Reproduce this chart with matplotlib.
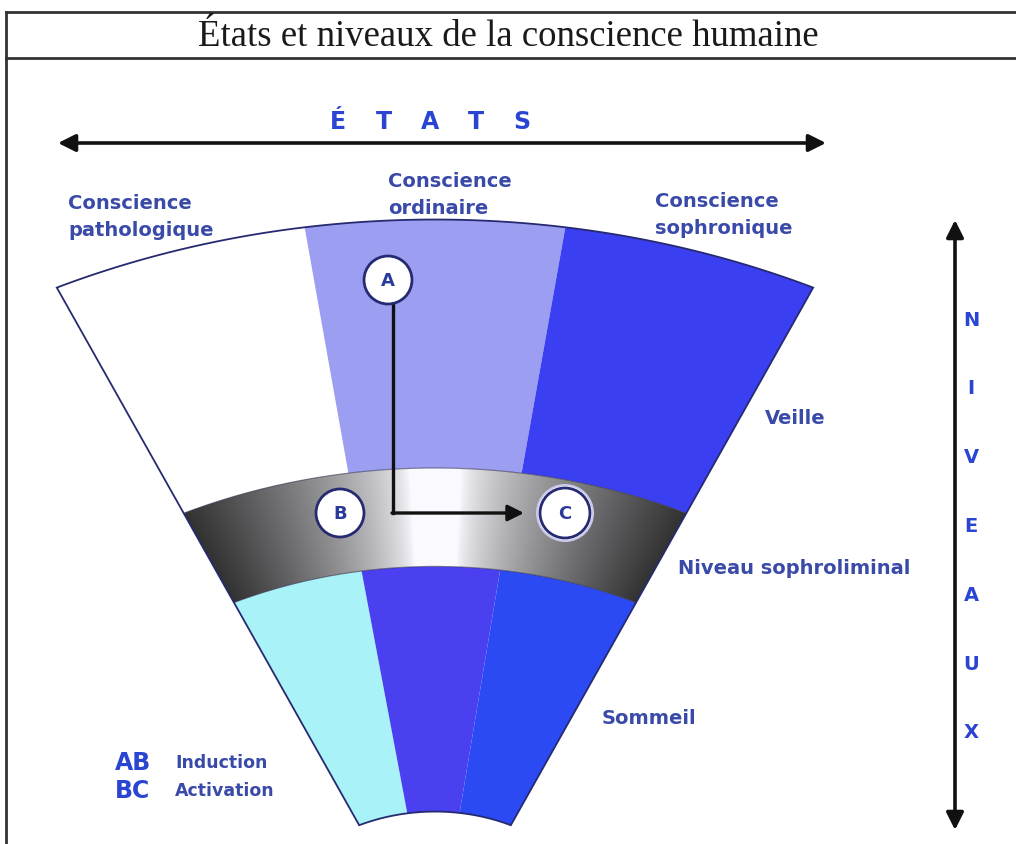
import matplotlib
matplotlib.use("Agg")
import matplotlib.pyplot as plt
import numpy as np
from matplotlib.patches import Polygon, Circle

# --- diagram content ---
TITLE = "États et niveaux de la conscience humaine"
STATE_LABELS = ["Conscience\npathologique", "Conscience\nordinaire", "Conscience\nsophronique"]
STATE_LABEL_POS = [(68, 217), (388, 195), (655, 215)]
LEVEL_LABELS = ["Veille", "Niveau sophroliminal", "Sommeil"]
LEVEL_LABEL_POS = [(765, 419), (678, 569), (602, 719)]
ETATS_LETTERS = list("ÉTATS")
NIVEAUX_LETTERS = list("NIVEAUX")
LEGEND_CODES = ["AB", "BC"]
LEGEND_TEXTS = ["Induction", "Activation"]

# fan geometry (elliptic fan: apex, squash factor, radii, angles in degrees)
APEX = (435, 960)
SQUASH = 0.82
HALF_ANGLE = 24.76
R_TOP = (600, 903)       # "Veille" ring
R_BAND = (480, 600)      # "Niveau sophroliminal" ring
R_BOTTOM = (181, 480)    # "Sommeil" ring
TOP_SPLITS = [-HALF_ANGLE, -8.3, 8.3, HALF_ANGLE]
BOTTOM_SPLITS = [-HALF_ANGLE, -8.8, 7.8, HALF_ANGLE]
TOP_COLORS = ["#ffffff", "#9c9ef2", "#3b3ff2"]
BOTTOM_COLORS = ["#a9f2f7", "#4a40f0", "#2c4af4"]

LABEL_COLOR = "#3a4aa8"
BRIGHT_BLUE = "#2a45d2"
NAVY = "#262a70"


def fan_xy(r, theta_deg):
    t = np.radians(theta_deg)
    return APEX[0] + r * np.sin(t), APEX[1] - SQUASH * r * np.cos(t)


def sector(r0, r1, a0, a1, n=120):
    th = np.linspace(a0, a1, n)
    xo, yo = fan_xy(r1, th)
    xi, yi = fan_xy(r0, th[::-1])
    return np.column_stack([np.concatenate([xo, xi]), np.concatenate([yo, yi])])


fig = plt.figure(figsize=(10.16, 8.44), dpi=100)
ax = fig.add_axes([0, 0, 1, 1])
ax.set_xlim(0, 1016)
ax.set_ylim(844, 0)
ax.axis("off")

# title frame
ax.plot([6, 1016], [12, 12], color="#333333", lw=2)
ax.plot([6, 1016], [58, 58], color="#333333", lw=2)
ax.plot([6, 6], [12, 844], color="#333333", lw=2)
ax.text(508, 37, TITLE, ha="center", va="center", fontsize=26.5,
        family="Liberation Serif", color="#1a1a1a")

# top ring sectors
for i, c in enumerate(TOP_COLORS):
    ax.add_patch(Polygon(sector(R_TOP[0], R_TOP[1], TOP_SPLITS[i], TOP_SPLITS[i + 1]),
                         closed=True, facecolor=c, edgecolor="none"))
# bottom ring sectors
for i, c in enumerate(BOTTOM_COLORS):
    ax.add_patch(Polygon(sector(R_BOTTOM[0], R_BOTTOM[1], BOTTOM_SPLITS[i], BOTTOM_SPLITS[i + 1]),
                         closed=True, facecolor=c, edgecolor="none"))

# gradient band (dark at the ends, white in the middle)
band = Polygon(sector(R_BAND[0], R_BAND[1], -HALF_ANGLE, HALF_ANGLE),
               closed=True, facecolor="none", edgecolor="none")
ax.add_patch(band)
gx, gy = np.meshgrid(np.arange(150, 720), np.arange(440, 640))
theta = np.degrees(np.arctan2(gx - APEX[0], (APEX[1] - gy) / SQUASH))
u = np.clip((np.abs(theta) / HALF_ANGLE - 0.1) / 0.9, 0, 1)
g = 1 - 0.8 * u ** 0.7
img = np.dstack([g * 0.98, g * 0.98, g])
im = ax.imshow(img, extent=(150, 720, 640, 440), origin="upper", zorder=2)
im.set_clip_path(band)

# fan outline
outline = sector(R_BOTTOM[0], R_TOP[1], -HALF_ANGLE, HALF_ANGLE)
ax.add_patch(Polygon(outline, closed=True, facecolor="none", edgecolor=NAVY, lw=1.3, zorder=3))
for r in (R_BAND[0], R_BAND[1]):
    th = np.linspace(-HALF_ANGLE, HALF_ANGLE, 150)
    x, y = fan_xy(r, th)
    ax.plot(x, y, color="#303050", lw=0.8, alpha=0.6, zorder=3)

# ÉTATS axis
ax.annotate("", xy=(58, 143), xytext=(826, 143),
            arrowprops=dict(arrowstyle="<|-|>", color="#111111", lw=2.6,
                            mutation_scale=26, shrinkA=0, shrinkB=0))
for i, ch in enumerate(ETATS_LETTERS):
    ax.text(338 + i * 46, 122, ch, ha="center", va="center", fontsize=17,
            fontweight="bold", family="DejaVu Sans", color=BRIGHT_BLUE)

# NIVEAUX axis
ax.annotate("", xy=(955, 220), xytext=(955, 830),
            arrowprops=dict(arrowstyle="<|-|>", color="#111111", lw=2.6,
                            mutation_scale=26, shrinkA=0, shrinkB=0))
for i, ch in enumerate(NIVEAUX_LETTERS):
    ax.text(971, 320 + i * 68.8, ch, ha="center", va="center", fontsize=14,
            fontweight="bold", family="DejaVu Sans", color=BRIGHT_BLUE)

# labels
for txt, (x, y) in zip(STATE_LABELS, STATE_LABEL_POS):
    ax.text(x, y, txt, ha="left", va="center", fontsize=14, fontweight="bold",
            family="DejaVu Sans", color=LABEL_COLOR, linespacing=1.5)
for txt, (x, y) in zip(LEVEL_LABELS, LEVEL_LABEL_POS):
    ax.text(x, y, txt, ha="left", va="center", fontsize=14, fontweight="bold",
            family="DejaVu Sans", color=LABEL_COLOR)
for i, (code, txt) in enumerate(zip(LEGEND_CODES, LEGEND_TEXTS)):
    ax.text(115, 763 + i * 28, code, ha="left", va="center", fontsize=17,
            fontweight="bold", family="DejaVu Sans", color=BRIGHT_BLUE)
    ax.text(175, 763 + i * 28, txt, ha="left", va="center", fontsize=12.5,
            fontweight="bold", family="DejaVu Sans", color=LABEL_COLOR)

# path A -> B -> C
ax.plot([393, 393], [304, 513], color="#111111", lw=2.4, zorder=4)
ax.annotate("", xy=(524, 513), xytext=(392, 513), zorder=4,
            arrowprops=dict(arrowstyle="-|>", color="#111111", lw=2.4,
                            mutation_scale=24, shrinkA=0, shrinkB=0))

for letter, (x, y), r in [("A", (388, 280), 24), ("B", (340, 513), 24), ("C", (565, 513), 25)]:
    if letter == "C":
        ax.add_patch(Circle((x, y), r + 3, facecolor="white", edgecolor="#c8c8e8", lw=1.5, zorder=5))
    ax.add_patch(Circle((x, y), r, facecolor="white", edgecolor=NAVY, lw=2, zorder=5))
    ax.text(x, y + 1, letter, ha="center", va="center", fontsize=13, fontweight="bold",
            family="DejaVu Sans", color="#2a3a9a", zorder=6)

fig.savefig("out.png", dpi=100)
